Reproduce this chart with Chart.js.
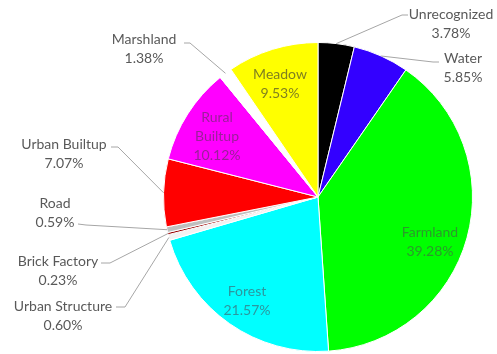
<!DOCTYPE html>
<html>
<head>
<meta charset="utf-8">
<script src="https://cdn.jsdelivr.net/npm/chart.js@4"></script>
<style>
  html, body { margin: 0; padding: 0; background: #ffffff; }
  #wrap { width: 497px; height: 354px; }
</style>
</head>
<body>
<div id="wrap"><canvas id="landuse" width="497" height="354"></canvas></div>
<script>
// Land-use classes, clockwise from 12 o'clock
const categories = ['Unrecognized', 'Water', 'Farmland', 'Forest', 'Urban Structure',
  'Brick Factory', 'Road', 'Urban Builtup', 'Rural Builtup', 'Marshland', 'Meadow'];
// Share of total area, percent
const shares = [3.78, 5.85, 39.28, 21.57, 0.60, 0.23, 0.59, 7.07, 10.12, 1.38, 9.53];
const sliceColors = ['#000000', '#3300ff', '#00ff00', '#00ffff', '#f2f2f2',
  '#990000', '#bfbfbf', '#ff0000', '#ff00ff', '#ffffff', '#ffff00'];

// Where each label sits; outside labels get a leader line (arc edge -> elbow -> end)
const labelLayout = {
  'Unrecognized':    { x: 451, y: 14,  elbow: [402, 15],  end: [408, 15] },
  'Water':           { x: 463, y: 58,  elbow: [433, 62],  end: [439, 62] },
  'Farmland':        { x: 430, y: 232, inside: true, color: '#2b9a2b' },
  'Forest':          { x: 247, y: 291, inside: true, color: '#2b979f' },
  'Urban Structure': { x: 63,  y: 306, elbow: [125, 307], end: [116, 307] },
  'Brick Factory':   { x: 58,  y: 261, elbow: [110, 263], end: [101, 263] },
  'Road':            { x: 55,  y: 203, elbow: [86, 225],  end: [78, 224] },
  'Urban Builtup':   { x: 64,  y: 144, elbow: [118, 147], end: [111, 147] },
  'Rural Builtup':   { x: 217, y: 117, inside: true, wrap: true, color: '#9a1f9a' },
  'Marshland':       { x: 144, y: 39,  elbow: [190, 43],  end: [184, 43] },
  'Meadow':          { x: 280, y: 74,  inside: true, color: '#80801f' }
};

const FONT = '14px Lato, "Open Sans", sans-serif';
const LINE_H = 19;

const sliceLabels = {
  id: 'sliceLabels',
  afterDatasetsDraw(chart) {
    const ctx = chart.ctx;
    const meta = chart.getDatasetMeta(0);
    ctx.save();
    ctx.font = FONT;
    ctx.textAlign = 'center';
    ctx.textBaseline = 'middle';
    meta.data.forEach((arc, i) => {
      const name = categories[i];
      const lay = labelLayout[name];
      if (!lay) return;
      if (!lay.inside) {
        const mid = (arc.startAngle + arc.endAngle) / 2;
        const px = arc.x + Math.cos(mid) * arc.outerRadius;
        const py = arc.y + Math.sin(mid) * arc.outerRadius;
        ctx.strokeStyle = '#a6a6a6';
        ctx.lineWidth = 1;
        ctx.beginPath();
        ctx.moveTo(px, py);
        ctx.lineTo(lay.elbow[0], lay.elbow[1]);
        ctx.lineTo(lay.end[0], lay.end[1]);
        ctx.stroke();
      }
      const lines = lay.wrap ? name.split(' ') : [name];
      lines.push(shares[i].toFixed(2) + '%');
      ctx.fillStyle = lay.color || '#595959';
      lines.forEach((t, k) => ctx.fillText(t, lay.x, lay.y + k * LINE_H));
    });
    ctx.restore();
  }
};

new Chart(document.getElementById('landuse'), {
  type: 'pie',
  data: {
    labels: categories,
    datasets: [{
      data: shares,
      backgroundColor: sliceColors,
      borderColor: '#ffffff',
      borderWidth: 1
    }]
  },
  options: {
    responsive: false,
    animation: false,
    events: [],
    layout: { padding: { left: 163, top: 42, right: 24, bottom: 2 } },
    plugins: {
      legend: { display: false },
      tooltip: { enabled: false }
    }
  },
  plugins: [sliceLabels]
});
</script>
</body>
</html>
